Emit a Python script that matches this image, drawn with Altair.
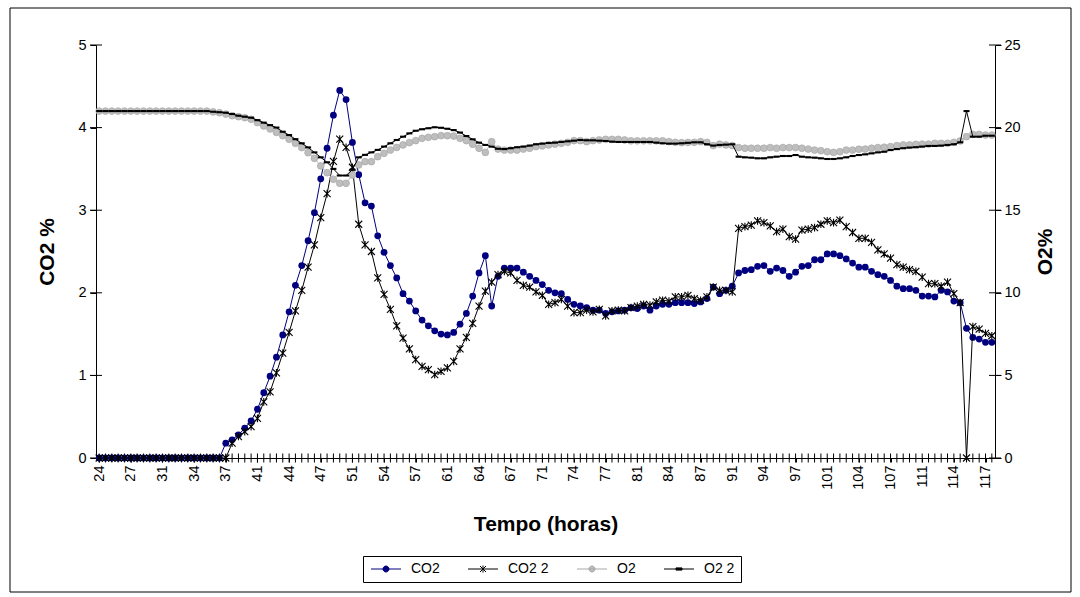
import json
import altair as alt
import pandas as pd

FONT = "Liberation Sans"

# ---------------- data ----------------
series_names = ["CO2", "CO2 2", "O2", "O2 2"]

# category axis labels (hours), one label every 5 categories
tick_labels = ["24", "27", "31", "34", "37", "41", "44", "47", "51", "54",
               "57", "61", "64", "67", "71", "74", "77", "81", "84", "87",
               "91", "94", "97", "101", "104", "107", "111", "114", "117"]

co2 = [0.0, 0.0, 0.0, 0.0, 0.0, 0.0, 0.0, 0.0, 0.0, 0.0,
       0.0, 0.0, 0.0, 0.0, 0.0, 0.0, 0.0, 0.0, 0.0, 0.0,
       0.18, 0.22, 0.28, 0.36, 0.45, 0.59, 0.79, 0.99, 1.22, 1.49,
       1.77, 2.09, 2.33, 2.63, 2.97, 3.38, 3.75, 4.15, 4.45, 4.34,
       3.82, 3.43, 3.09, 3.05, 2.69, 2.49, 2.33, 2.18, 1.99, 1.90,
       1.78, 1.67, 1.60, 1.54, 1.50, 1.49, 1.52, 1.62, 1.75, 1.96,
       2.24, 2.45, 1.84, 2.20, 2.30, 2.30, 2.30, 2.25, 2.20, 2.15,
       2.10, 2.03, 2.00, 1.99, 1.92, 1.86, 1.84, 1.82, 1.79, 1.79,
       1.75, 1.77, 1.78, 1.79, 1.82, 1.81, 1.84, 1.79, 1.84, 1.86,
       1.86, 1.88, 1.88, 1.88, 1.87, 1.89, 1.93, 2.07, 1.99, 2.03,
       2.08, 2.24, 2.27, 2.28, 2.32, 2.33, 2.26, 2.30, 2.27, 2.20,
       2.25, 2.32, 2.33, 2.40, 2.40, 2.47, 2.47, 2.45, 2.41, 2.36,
       2.31, 2.31, 2.26, 2.22, 2.20, 2.15, 2.08, 2.05, 2.05, 2.03,
       1.96, 1.96, 1.95, 2.03, 2.01, 1.90, 1.88, 1.57, 1.46, 1.44,
       1.40, 1.40]

co2_2 = [0.0, 0.0, 0.0, 0.0, 0.0, 0.0, 0.0, 0.0, 0.0, 0.0,
         0.0, 0.0, 0.0, 0.0, 0.0, 0.0, 0.0, 0.0, 0.0, 0.0,
         0.0, 0.18, 0.26, 0.32, 0.38, 0.48, 0.68, 0.80, 1.03, 1.27,
         1.52, 1.78, 2.03, 2.31, 2.58, 2.91, 3.20, 3.59, 3.86, 3.76,
         3.52, 2.83, 2.58, 2.50, 2.18, 1.98, 1.80, 1.60, 1.45, 1.32,
         1.19, 1.11, 1.07, 1.01, 1.05, 1.09, 1.17, 1.32, 1.46, 1.63,
         1.84, 2.02, 2.13, 2.22, 2.26, 2.24, 2.15, 2.09, 2.07, 2.01,
         1.97, 1.86, 1.88, 1.92, 1.84, 1.76, 1.76, 1.79, 1.77, 1.80,
         1.72, 1.78, 1.79, 1.78, 1.82, 1.84, 1.86, 1.85, 1.89, 1.91,
         1.90, 1.95, 1.95, 1.97, 1.93, 1.91, 1.95, 2.07, 2.03, 2.03,
         2.01, 2.78, 2.80, 2.82, 2.87, 2.85, 2.81, 2.74, 2.77, 2.68,
         2.65, 2.76, 2.77, 2.79, 2.83, 2.87, 2.85, 2.88, 2.80, 2.73,
         2.66, 2.66, 2.61, 2.52, 2.47, 2.42, 2.34, 2.31, 2.28, 2.26,
         2.19, 2.11, 2.11, 2.08, 2.13, 1.99, 1.88, 0.0, 1.59, 1.56,
         1.51, 1.48]

o2 = [21.0, 21.0, 21.0, 21.0, 21.0, 21.0, 21.0, 21.0, 21.0, 21.0,
      21.0, 21.0, 21.0, 21.0, 21.0, 21.0, 21.0, 21.0, 20.95, 20.9,
      20.82, 20.72, 20.66, 20.6, 20.5, 20.3, 20.1, 19.92, 19.71, 19.51,
      19.29, 19.05, 18.79, 18.48, 18.14, 17.68, 17.27, 16.87, 16.63, 16.63,
      17.13, 17.74, 17.94, 17.94, 18.24, 18.44, 18.64, 18.8, 18.95, 19.09,
      19.21, 19.35, 19.41, 19.45, 19.51, 19.51, 19.49, 19.35, 19.21, 18.99,
      18.75, 18.5, 19.15, 18.7, 18.64, 18.64, 18.64, 18.7, 18.75, 18.85,
      18.89, 18.95, 19.0, 19.05, 19.11, 19.21, 19.21, 19.15, 19.21, 19.25,
      19.29, 19.29, 19.29, 19.25, 19.2, 19.2, 19.2, 19.2, 19.2, 19.2,
      19.15, 19.11, 19.09, 19.1, 19.11, 19.15, 19.11, 18.91, 19.0, 18.95,
      18.91, 18.79, 18.75, 18.75, 18.75, 18.75, 18.79, 18.75, 18.79, 18.79,
      18.79, 18.75, 18.7, 18.64, 18.6, 18.54, 18.5, 18.54, 18.64, 18.64,
      18.69, 18.7, 18.75, 18.79, 18.81, 18.85, 18.91, 18.95, 18.95, 18.99,
      19.0, 19.0, 19.05, 19.05, 19.05, 19.11, 19.19, 19.45, 19.59, 19.59,
      19.55, 19.55]

o2_2 = [21.0, 21.0, 21.0, 21.0, 21.0, 21.0, 21.0, 21.0, 21.0, 21.0,
        21.0, 21.0, 21.0, 21.0, 21.0, 21.0, 21.0, 21.0, 20.96, 20.93,
        20.9, 20.82, 20.72, 20.66, 20.6, 20.45, 20.3, 20.15, 20.0, 19.75,
        19.55, 19.3, 19.05, 18.8, 18.5, 18.2, 17.9, 17.5, 17.1, 17.1,
        17.45, 18.2, 18.35, 18.5, 18.65, 18.85, 19.05, 19.25, 19.45, 19.65,
        19.81, 19.9, 19.96, 20.02, 19.99, 19.93, 19.85, 19.7, 19.49, 19.29,
        19.09, 18.95, 18.85, 18.72, 18.7, 18.75, 18.81, 18.85, 18.91, 18.99,
        19.03, 19.07, 19.09, 19.13, 19.17, 19.21, 19.25, 19.23, 19.23, 19.21,
        19.19, 19.15, 19.13, 19.13, 19.13, 19.13, 19.13, 19.13, 19.09, 19.05,
        19.03, 19.03, 19.05, 19.08, 19.11, 19.11, 18.99, 18.91, 18.95, 18.97,
        18.99, 18.24, 18.2, 18.18, 18.14, 18.14, 18.2, 18.24, 18.28, 18.28,
        18.34, 18.24, 18.2, 18.18, 18.14, 18.1, 18.1, 18.14, 18.2, 18.28,
        18.34, 18.38, 18.44, 18.5, 18.54, 18.64, 18.7, 18.75, 18.79, 18.81,
        18.85, 18.89, 18.89, 18.91, 18.95, 18.99, 19.11, 21.0, 19.45, 19.45,
        19.51, 19.51]

left_ticks = [0, 1, 2, 3, 4, 5]
right_ticks = [0, 5, 10, 15, 20, 25]

# ---------------- tables ----------------
n = len(co2)
k = list(range(n))
label_k = k[::5]
df_co2 = pd.DataFrame({"k": k, "v": co2, "series": "CO2"})
df_co2_2 = pd.DataFrame({"k": k, "v": co2_2, "series": "CO2 2"})
df_o2 = pd.DataFrame({"k": k, "v": o2, "series": "O2"})
df_o2_2 = pd.DataFrame({"k": k, "v": o2_2, "series": "O2 2"})
df_all = pd.concat([df_co2, df_co2_2, df_o2, df_o2_2], ignore_index=True)
df_k = pd.DataFrame({"k": k})
df_lt = pd.DataFrame({"v": left_ticks})
df_rt = pd.DataFrame({"v": right_ticks})

# ---------------- styling ----------------
NAVY = "#000080"
GREY = "#BEBEBE"
BLACK = "#000000"

STAR = "M-1,-1L1,1M-1,1L1,-1M0,-1.1L0,1.1"
DASH = "M-1,-0.35H1V0.35H-1Z"

leg_paths = [
    "M-3,0H3M0.6,0A0.6,0.6 0 1,1 -0.6,0A0.6,0.6 0 1,1 0.6,0Z",
    "M-3,0H3M-0.6,-0.6L0.6,0.6M-0.6,0.6L0.6,-0.6M0,-0.7L0,0.7",
    "M-3,0H3M0.6,0A0.6,0.6 0 1,1 -0.6,0A0.6,0.6 0 1,1 0.6,0Z",
    "M-3,0H3M-0.6,-0.22H0.6V0.22H-0.6Z",
]
leg_fill = [NAVY, BLACK, GREY, BLACK]
leg_stroke = [NAVY, BLACK, "#A8A8A8", BLACK]

label_expr = json.dumps(tick_labels) + "[round(datum.value / 5)]"

x_axis = alt.Axis(values=label_k, tickCount=400, labelExpr=label_expr, labelAngle=270,
                  labelFont=FONT, labelFontSize=14.5, labelColor=BLACK,
                  labelPadding=3, labelOverlap=False, labelFlush=False, labelBound=False,
                  tickSize=4, tickColor=BLACK, domainColor=BLACK, grid=False,
                  title="Tempo (horas)", titleFont=FONT, titleFontSize=21,
                  titleFontWeight="bold", titleColor=BLACK,
                  titleBaseline="alphabetic", titleY=72)
x_enc = alt.X("k:Q", scale=alt.Scale(domain=[-0.5, n - 0.5], nice=False, zero=False),
              axis=x_axis)

left_axis = alt.Axis(values=left_ticks, tickCount=50, format="d", labelFont=FONT,
                     labelFontSize=14.5, labelColor=BLACK, labelPadding=4, tickSize=6,
                     tickColor=BLACK, domainColor=BLACK, grid=False, title="CO2 %",
                     titleFont=FONT, titleFontSize=21, titleFontWeight="bold",
                     titleColor=BLACK, titleAngle=270, titleBaseline="middle",
                     titleAlign="center", titleX=-49, titleY=206.5)
left_scale = alt.Scale(domain=[0, 5], nice=False, zero=True)
yl = alt.Y("v:Q", scale=left_scale, axis=left_axis)

right_axis = alt.Axis(orient="right", values=right_ticks, tickCount=50, format="d",
                      labelFont=FONT, labelFontSize=14.5, labelColor=BLACK, labelPadding=3,
                      tickSize=6, tickColor=BLACK, domainColor=BLACK, grid=False,
                      title="O2%", titleFont=FONT, titleFontSize=21, titleFontWeight="bold",
                      titleColor=BLACK, titleAngle=270, titleBaseline="middle",
                      titleAlign="center", titleX=50, titleY=206.5)
right_scale = alt.Scale(domain=[0, 25], nice=False, zero=True)
yr = alt.Y("v:Q", scale=right_scale, axis=right_axis)

leg = alt.Legend(title=None, orient="none", legendX=267, legendY=511,
                 direction="horizontal", columns=4, strokeColor=BLACK, fillColor="white",
                 padding=6, cornerRadius=0, labelFont=FONT, labelFontSize=14,
                 labelColor=BLACK, symbolSize=100, symbolOffset=10, labelOffset=18,
                 symbolStrokeWidth=1, symbolOpacity=1, columnPadding=26)

# ---------------- left (CO2) group ----------------
co2_line = alt.Chart(df_co2).mark_line(color=NAVY, strokeWidth=1).encode(x=x_enc, y=yl)
co2_pts = alt.Chart(df_co2).mark_point(shape="circle", size=46, filled=True, color=NAVY,
                                       opacity=1).encode(x=x_enc, y=yl)
co22_line = alt.Chart(df_co2_2).mark_line(color=BLACK, strokeWidth=1).encode(x=x_enc, y=yl)
co22_pts = alt.Chart(df_co2_2).mark_point(shape=STAR, size=49, filled=False, color=BLACK,
                                          strokeWidth=1.1, opacity=1).encode(x=x_enc, y=yl)

legend_layer = alt.Chart(df_all).transform_filter("datum.k == 0").mark_point(opacity=0).encode(
    x=x_enc, y=yl,
    shape=alt.Shape("series:N", scale=alt.Scale(domain=series_names, range=leg_paths), legend=leg),
    fill=alt.Fill("series:N", scale=alt.Scale(domain=series_names, range=leg_fill), legend=leg),
    stroke=alt.Stroke("series:N", scale=alt.Scale(domain=series_names, range=leg_stroke), legend=leg),
)

x_cross = alt.Chart(df_k).mark_tick(orient="vertical", size=9, thickness=1, color=BLACK,
                                    opacity=1).encode(x=x_enc, y=alt.YDatum(0))
yl_cross = alt.Chart(df_lt).mark_tick(orient="horizontal", size=12, thickness=1, color=BLACK,
                                      opacity=1).encode(x=alt.XDatum(-0.5), y=yl)

frame = alt.Chart(pd.DataFrame({"a": [0]})).mark_rect(
    fillOpacity=0, stroke=BLACK, strokeWidth=1).encode(
    x=alt.value(-86), x2=alt.value(975), y=alt.value(-37), y2=alt.value(547))

left = alt.layer(frame, x_cross, yl_cross, co2_line, co2_pts, co22_line, co22_pts, legend_layer)

# ---------------- right (O2) group ----------------
o2_line = alt.Chart(df_o2).mark_line(color=GREY, strokeWidth=1).encode(x=x_enc, y=yr)
o2_pts = alt.Chart(df_o2).mark_point(shape="circle", size=46, filled=True, fill=GREY,
                                     stroke="#A8A8A8", strokeWidth=0.7,
                                     opacity=1).encode(x=x_enc, y=yr)
o22_line = alt.Chart(df_o2_2).mark_line(color=BLACK, strokeWidth=1).encode(x=x_enc, y=yr)
o22_pts = alt.Chart(df_o2_2).mark_point(shape=DASH, size=36, filled=True, color=BLACK,
                                        opacity=1).encode(x=x_enc, y=yr)
yr_cross = alt.Chart(df_rt).mark_tick(orient="horizontal", size=12, thickness=1, color=BLACK,
                                      opacity=1).encode(x=alt.XDatum(n - 0.5), y=yr)

right = alt.layer(yr_cross, o2_line, o2_pts, o22_line, o22_pts)

chart = alt.layer(left, right).resolve_scale(y="independent").properties(
    width=899, height=413,
    padding={"left": 96, "top": 45, "right": 85, "bottom": 139},
    autosize=alt.AutoSizeParams(type="none"),
    background="white",
).configure(font=FONT).configure_view(stroke="transparent")

chart.save("out.html", embed_options={"renderer": "svg", "actions": False})
